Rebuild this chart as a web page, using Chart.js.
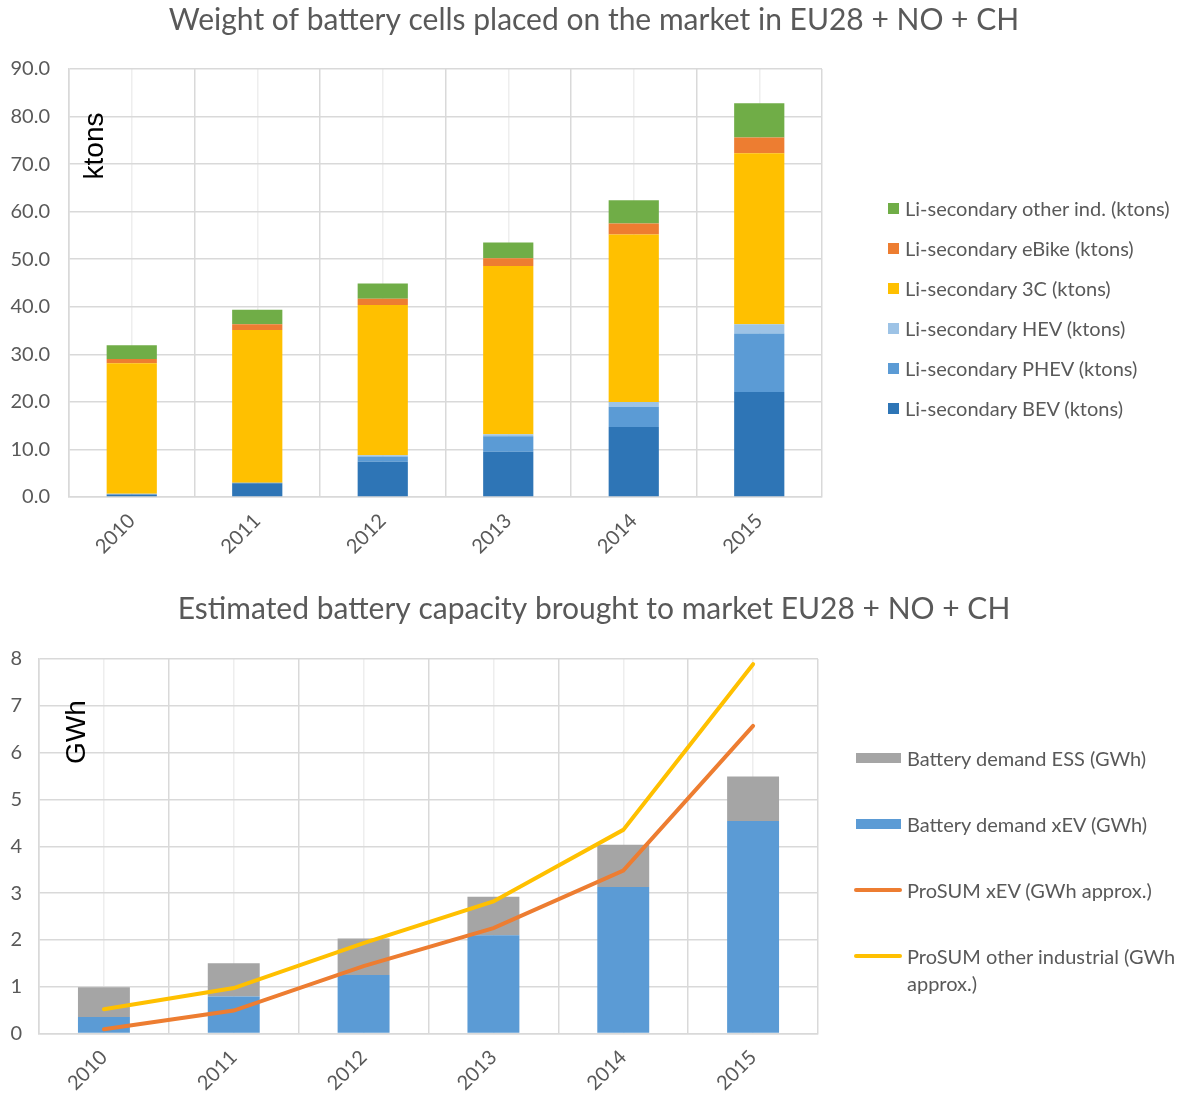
<!DOCTYPE html>
<html lang="en">
<head>
<meta charset="utf-8">
<title>Battery cells EU28 + NO + CH</title>
<script src="https://cdn.jsdelivr.net/npm/chart.js@4.4.1/dist/chart.umd.min.js"></script>
<style>
  html, body { margin: 0; padding: 0; background: #fff; }
  #pagina { position: relative; width: 1177px; height: 1095px; overflow: hidden; font-family: Lato, sans-serif; color: #595959; }
  .caixaGrafico { position: absolute; left: 0; width: 1177px; }
  #caixaPeso { top: 0; height: 570px; }
  #caixaCapacidade { top: 570px; height: 525px; }
  .legenda { position: absolute; font-size: 20px; }
  #legendaPeso { left: 888px; top: 188px; }
  #legendaCapacidade { left: 854px; top: 726px; }
  #legendaPeso .itemLegenda { display: flex; align-items: center; height: 40px; white-space: nowrap; }
  #legendaCapacidade .itemLegenda { display: flex; align-items: flex-start; height: 66px; box-sizing: border-box; padding-top: 19px; line-height: 27px; }
  #legendaCapacidade .texto { max-width: 270px; }
  .marcaQuadrado { width: 11px; height: 11px; margin-right: 6px; flex: none; }
  .marcaBarra { width: 45px; height: 10px; margin: 8px 6px 0 2px; flex: none; }
  .marcaLinha { width: 48px; height: 4px; border-radius: 2px; margin: 11px 5px 0 0; flex: none; }
</style>
</head>
<body>
<div id="pagina">
  <div class="caixaGrafico" id="caixaPeso"><canvas id="graficoPeso"></canvas></div>
  <div class="caixaGrafico" id="caixaCapacidade"><canvas id="graficoCapacidade"></canvas></div>
  <div class="legenda" id="legendaPeso"></div>
  <div class="legenda" id="legendaCapacidade"></div>
</div>
<script>
// dados
const anos = ['2010', '2011', '2012', '2013', '2014', '2015'];

// peso das células (ktons)
const bev = [0.5, 2.9, 7.4, 9.5, 14.7, 22.1];
const phev = [0.1, 0.1, 1.1, 3.3, 4.3, 12.3];
const hev = [0.1, 0.0, 0.3, 0.4, 1.0, 1.9];
const tresC = [27.4, 32.1, 31.6, 35.4, 35.2, 36.0];
const eBike = [0.9, 1.2, 1.3, 1.6, 2.3, 3.3];
const outrosInd = [2.9, 3.1, 3.2, 3.3, 4.9, 7.2];
const pesoMax = 90;
const pesoPasso = 10;

// capacidade (GWh)
const demandaXev = [0.35, 0.79, 1.25, 2.1, 3.13, 4.54];
const demandaEss = [0.64, 0.71, 0.78, 0.82, 0.9, 0.95];
const prosumXev = [0.09, 0.49, 1.44, 2.25, 3.48, 6.57];
const prosumOutros = [0.52, 0.97, 1.93, 2.82, 4.35, 7.89];
const capacidadeMax = 8;
const capacidadePasso = 1;

Chart.defaults.font.family = 'Lato';
Chart.defaults.color = '#595959';

const corGrade = '#d9d9d9';
const corGradeMenor = '#eeeeee';

// título e unidade desenhados direto no canvas
const textosFixos = {
    id: 'textosFixos',
    afterDraw(chart, args, opcoes) {
        const ctx = chart.ctx;
        ctx.save();
        ctx.textAlign = 'center';
        ctx.textBaseline = 'middle';
        ctx.fillStyle = '#595959';
        ctx.font = '30px Lato';
        ctx.fillText(opcoes.titulo, opcoes.tituloX, opcoes.tituloY);
        ctx.translate(opcoes.unidadeX, opcoes.unidadeY);
        ctx.rotate(-Math.PI / 2);
        ctx.fillStyle = '#000';
        ctx.font = '28px "Liberation Sans"';
        ctx.fillText(opcoes.unidade, 0, 0);
        ctx.restore();
    }
};

function escalas(larguraY, alturaX, maxY, passoY, casas, paddingY) {
    return {
        x: {
            stacked: true,
            grid: { offset: true, color: corGrade, lineWidth: 1.5, drawTicks: false },
            border: { color: corGrade, width: 1.5 },
            ticks: { minRotation: 45, maxRotation: 45, padding: 12, font: { size: 20 } },
            afterFit: s => { s.height = alturaX; }
        },
        xMenor: {
            type: 'category',
            position: 'bottom',
            offset: true,
            grid: { offset: false, color: corGradeMenor, lineWidth: 1.5, drawTicks: false },
            border: { display: false },
            ticks: { display: false },
            afterFit: s => { s.height = 0; }
        },
        y: {
            stacked: true,
            min: 0,
            max: maxY,
            ticks: { stepSize: passoY, padding: paddingY, font: { size: 20 }, callback: v => v.toFixed(casas) },
            grid: { color: corGrade, lineWidth: 1.5, drawTicks: false },
            border: { color: corGrade, width: 1.5 },
            afterFit: s => { s.width = larguraY; }
        }
    };
}

function barra(label, dados, cor, extra) {
    return Object.assign({
        type: 'bar',
        label: label,
        data: dados,
        backgroundColor: cor,
        borderWidth: 0,
        barPercentage: 0.4,
        categoryPercentage: 1.0
    }, extra || {});
}

const graficoPeso = new Chart(document.getElementById('graficoPeso'), {
    type: 'bar',
    data: {
        labels: anos,
        datasets: [
            barra('Li-secondary BEV (ktons)', bev, '#2E75B6'),
            barra('Li-secondary PHEV (ktons)', phev, '#5B9BD5'),
            barra('Li-secondary HEV (ktons)', hev, '#9DC3E6'),
            barra('Li-secondary 3C (ktons)', tresC, '#FFC000'),
            barra('Li-secondary eBike (ktons)', eBike, '#ED7D31'),
            barra('Li-secondary other ind. (ktons)', outrosInd, '#70AD47')
        ]
    },
    options: {
        responsive: true,
        maintainAspectRatio: false,
        animation: false,
        layout: { padding: { top: 69, right: 355, bottom: 0, left: 0 } },
        scales: escalas(69, 73, pesoMax, pesoPasso, 1, 19),
        plugins: {
            legend: { display: false },
            tooltip: { enabled: false },
            textosFixos: {
                titulo: 'Weight of battery cells placed on the market in EU28 + NO + CH',
                tituloX: 594, tituloY: 20,
                unidade: 'ktons', unidadeX: 95, unidadeY: 146
            }
        }
    },
    plugins: [textosFixos]
});

const graficoCapacidade = new Chart(document.getElementById('graficoCapacidade'), {
    type: 'bar',
    data: {
        labels: anos,
        datasets: [
            {
                type: 'line',
                label: 'ProSUM xEV (GWh approx.)',
                data: prosumXev,
                borderColor: '#ED7D31',
                backgroundColor: '#ED7D31',
                borderWidth: 4,
                borderCapStyle: 'round',
                pointRadius: 0,
                tension: 0,
                stack: 'linha1',
                order: 0
            },
            {
                type: 'line',
                label: 'ProSUM other industrial (GWh approx.)',
                data: prosumOutros,
                borderColor: '#FFC000',
                backgroundColor: '#FFC000',
                borderWidth: 4,
                borderCapStyle: 'round',
                pointRadius: 0,
                tension: 0,
                stack: 'linha2',
                order: 0
            },
            barra('Battery demand xEV (GWh)', demandaXev, '#5B9BD5', { stack: 'barras', order: 1 }),
            barra('Battery demand ESS (GWh)', demandaEss, '#A5A5A5', { stack: 'barras', order: 1 })
        ]
    },
    options: {
        responsive: true,
        maintainAspectRatio: false,
        animation: false,
        layout: { padding: { top: 89, right: 359, bottom: 0, left: 0 } },
        scales: escalas(39, 61.5, capacidadeMax, capacidadePasso, 0, 17),
        plugins: {
            legend: { display: false },
            tooltip: { enabled: false },
            textosFixos: {
                titulo: 'Estimated battery capacity brought to market EU28 + NO + CH',
                tituloX: 594, tituloY: 39,
                unidade: 'GWh', unidadeX: 77, unidadeY: 162
            }
        }
    },
    plugins: [textosFixos]
});

// legendas em HTML
function montarLegenda(idElemento, datasets) {
    const el = document.getElementById(idElemento);
    datasets.forEach(ds => {
        const item = document.createElement('div');
        item.className = 'itemLegenda';
        const marca = document.createElement('span');
        if (ds.type === 'line') {
            marca.className = 'marcaLinha';
            marca.style.background = ds.borderColor;
        } else {
            marca.className = idElemento === 'legendaPeso' ? 'marcaQuadrado' : 'marcaBarra';
            marca.style.background = ds.backgroundColor;
        }
        const texto = document.createElement('span');
        texto.className = 'texto';
        texto.textContent = ds.label;
        item.appendChild(marca);
        item.appendChild(texto);
        el.appendChild(item);
    });
}

montarLegenda('legendaPeso', graficoPeso.data.datasets.slice().reverse());
const dsCap = graficoCapacidade.data.datasets;
montarLegenda('legendaCapacidade', [dsCap[3], dsCap[2], dsCap[0], dsCap[1]]);
</script>
</body>
</html>
